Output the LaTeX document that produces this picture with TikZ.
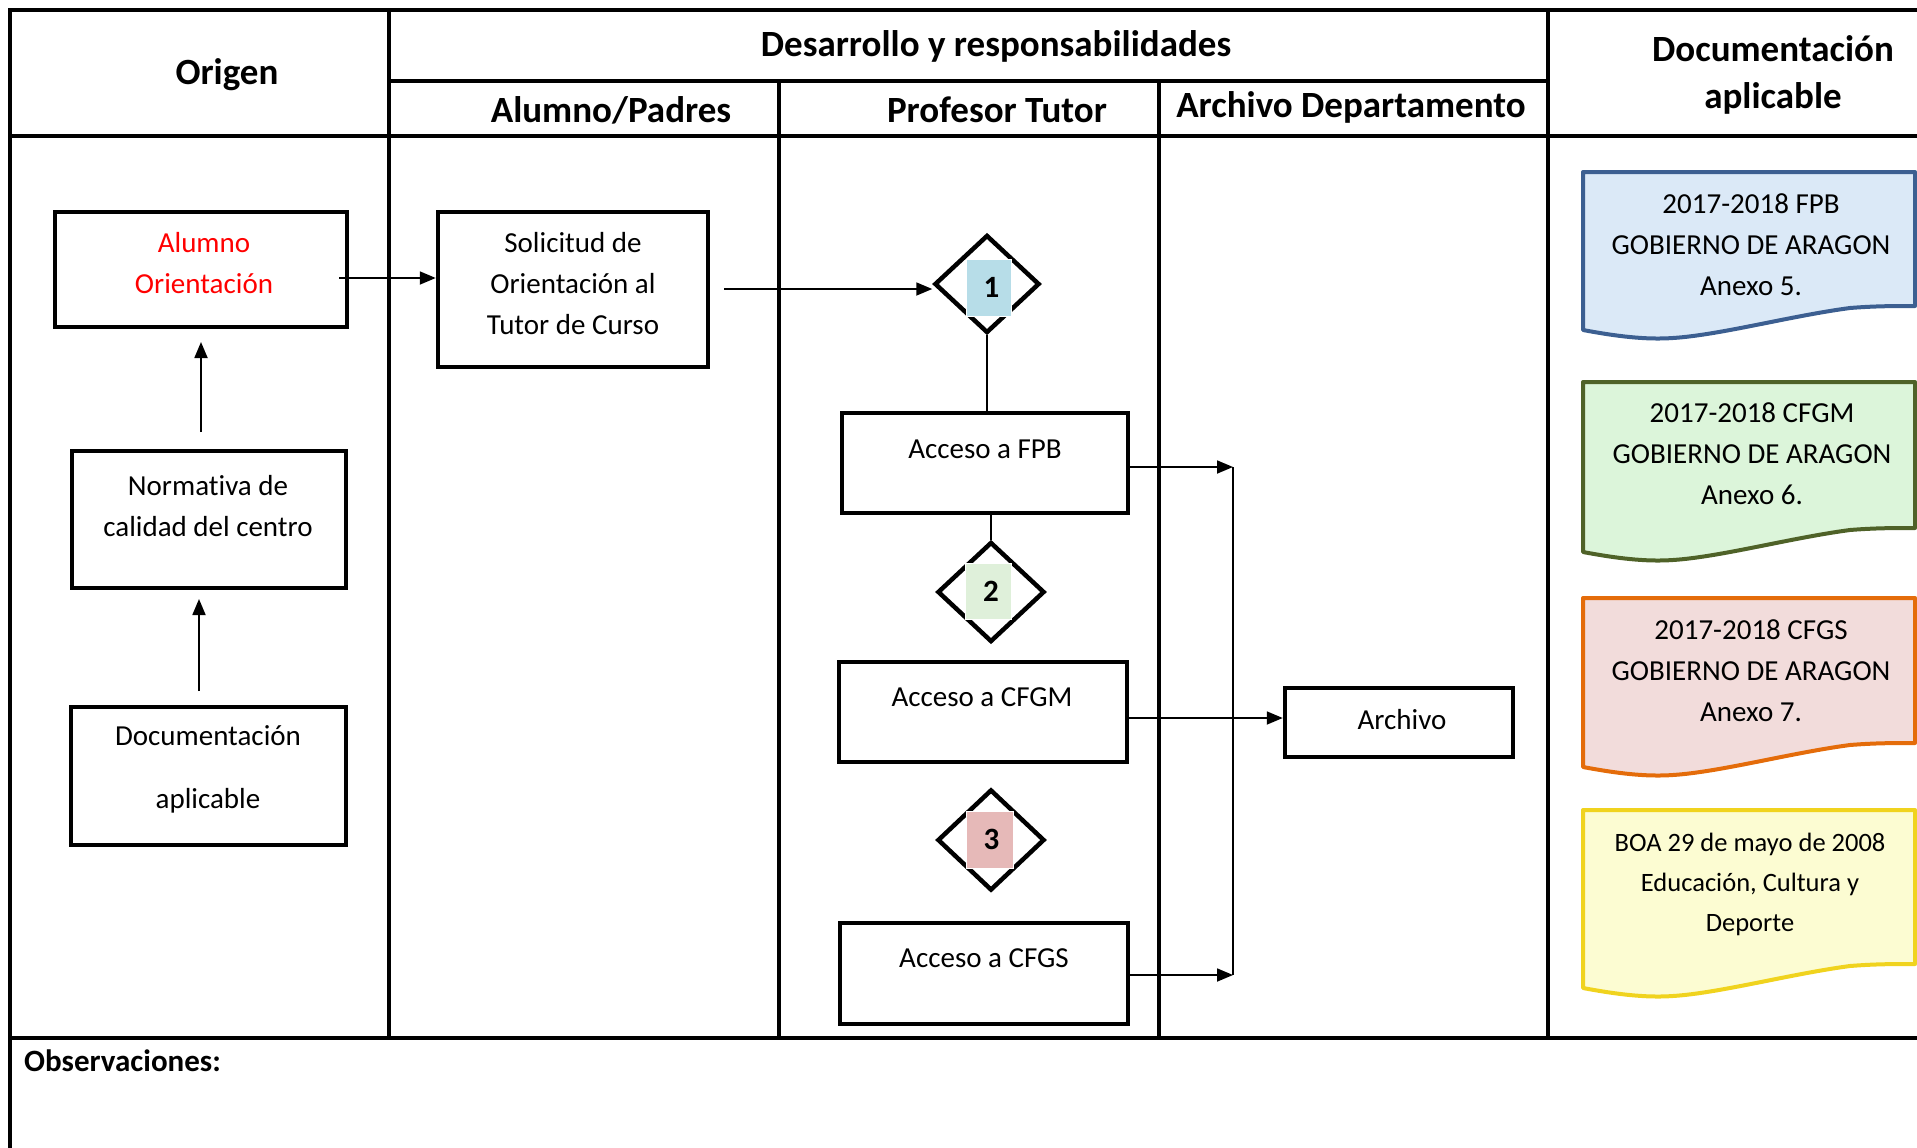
\documentclass[tikz,border=0pt]{standalone}
\usepackage{fontspec}
\setmainfont[Ligatures={NoCommon}]{Carlito}
\usetikzlibrary{arrows.meta,shapes.geometric}
\definecolor{bfill}{RGB}{219,233,247}
\definecolor{bdraw}{RGB}{60,95,145}
\definecolor{gfill}{RGB}{220,245,218}
\definecolor{gdraw}{RGB}{79,98,40}
\definecolor{pfill}{RGB}{242,220,219}
\definecolor{pdraw}{RGB}{228,108,10}
\definecolor{yfill}{RGB}{252,252,210}
\definecolor{ydraw}{RGB}{240,211,30}
\definecolor{sqone}{RGB}{183,221,232}
\definecolor{sqtwo}{RGB}{223,240,218}
\definecolor{sqthree}{RGB}{230,185,184}
\tikzset{
  grid/.style={line width=4pt, line cap=rect},
  hdr/.style={font=\fontsize{37}{44}\selectfont\bfseries, inner sep=0pt, align=center},
  body/.style={font=\fontsize{29}{41}\selectfont, inner sep=0pt, align=center},
  boxx/.style={draw, line width=4.5pt, minimum width=#1, inner sep=0pt},
  dia/.style={draw, diamond, line width=4.5pt, inner sep=0pt},
  sq/.style={draw=white, line width=1pt, inner sep=0pt},
  num/.style={font=\fontsize{31}{33}\selectfont\bfseries, inner sep=0pt},
  conn/.style={line width=1.8pt},
  arr/.style={line width=1.8pt, -{Triangle[length=16pt,width=13pt]}},
  docshape/.style={line width=4pt, line join=round}
}
\newcommand\mydoc[4]{%
  \path[docshape, draw=#4, fill=#3] (1583,#1) -- (1915,#1) -- (1915,{#2-24})
    .. controls (1895,{#2-24}) and (1875,{#2-24}) .. (1850,{#2-22})
    .. controls (1790,{#2-14}) and (1720,{#2+5}) .. (1673,{#2+8})
    .. controls (1645,{#2+10}) and (1615,{#2+6}) .. (1583,#2) -- cycle;}
\begin{document}
\begin{tikzpicture}[x=1pt,y=-1pt]
\useasboundingbox (0,0) rectangle (1917,1148);
% table
\draw[grid] (10,10) -- (1919,10);
\draw[grid] (10,10) -- (10,1150);
\draw[grid] (10,136) -- (1919,136);
\draw[grid] (389,81) -- (1548,81);
\draw[grid] (10,1038) -- (1919,1038);
\draw[grid] (389,10) -- (389,1038);
\draw[grid] (779,81) -- (779,1038);
\draw[grid] (1159,81) -- (1159,1038);
\draw[grid] (1548,10) -- (1548,1038);
% headers
\node[hdr] (hOrigen) at (227,75) {Origen};
\node[hdr] (hDes) at (996,46) {Desarrollo y responsabilidades};
\node[hdr] (hAlu) at (611,110) {Alumno/Padres};
\node[hdr] (hPro) at (997,110) {Profesor Tutor};
\node[hdr] (hArc) at (1351,107) {Archivo Departamento};
\node[hdr, font=\fontsize{37}{47}\selectfont\bfseries] (hDoc) at (1773,75) {Documentación\\aplicable};
\node[font=\fontsize{31}{36}\selectfont\bfseries, inner sep=0pt, anchor=west] (hObs) at (24,1061) {Observaciones:};
% boxes
\node[boxx=292pt, minimum height=115pt] (alum) at (201,269.5) {};
\node[body, text=red] (alumT) at (204,263.5) {Alumno\\Orientación};
\node[boxx=270pt, minimum height=155pt] (sol) at (573,289.5) {};
\node[body] (solT) at (573,284) {Solicitud de\\Orientación al\\Tutor de Curso};
\node[boxx=274pt, minimum height=137pt] (norm) at (209,519.5) {};
\node[body] (normT) at (208,506) {Normativa de\\calidad del centro};
\node[boxx=275pt, minimum height=138pt] (docu) at (208.5,776) {};
\node[body] (docuT) at (208,769.5) {Documentación\\[22pt]aplicable};
\node[boxx=286pt, minimum height=100pt] (fpb) at (985,463) {};
\node[body] (fpbT) at (985,449) {Acceso a FPB};
\node[boxx=288pt, minimum height=100pt] (cfgm) at (983,712) {};
\node[body] (cfgmT) at (982,697) {Acceso a CFGM};
\node[boxx=288pt, minimum height=101pt] (cfgs) at (984,973.5) {};
\node[body] (cfgsT) at (984,958.5) {Acceso a CFGS};
\node[boxx=228pt, minimum height=69pt] (arch) at (1399,722.5) {};
\node[body] (archT) at (1402,720) {Archivo};
% diamonds
\node[dia, minimum width=105pt, minimum height=98pt] (d1) at (987,284) {};
\node[dia, minimum width=107pt, minimum height=100pt] (d2) at (991,592) {};
\node[dia, minimum width=107pt, minimum height=101pt] (d3) at (991,840) {};
\node[sq, fill=sqone, minimum width=45pt, minimum height=57pt] (s1) at (988.5,287.5) {};
\node[sq, fill=sqtwo, minimum width=46pt, minimum height=56pt] (s2) at (988,591) {};
\node[sq, fill=sqthree, minimum width=47pt, minimum height=57pt] (s3) at (989.5,839.5) {};
\node[num] (n1) at ([xshift=3pt]s1.center) {1};
\node[num] (n2) at ([xshift=3pt]s2.center) {2};
\node[num] (n3) at ([xshift=2pt]s3.center) {3};
% documents
\mydoc{172}{330}{bfill}{bdraw}
\mydoc{382}{552}{gfill}{gdraw}
\mydoc{598}{767}{pfill}{pdraw}
\mydoc{810}{988}{yfill}{ydraw}
\node[body] (doc1) at (1751,245) {2017-2018 FPB\\GOBIERNO DE ARAGON\\Anexo 5.};
\node[body] (doc2) at (1752,454) {2017-2018 CFGM\\GOBIERNO DE ARAGON\\Anexo 6.};
\node[body] (doc3) at (1751,671) {2017-2018 CFGS\\GOBIERNO DE ARAGON\\Anexo 7.};
\node[body, font=\fontsize{26.5}{40}\selectfont] (doc4) at (1750,884) {BOA 29 de mayo de 2008\\Educación, Cultura y\\Deporte};
% connectors
\coordinate (a1) at (339,278);
\draw[arr] (a1) -- (a1 -| sol.west);
\coordinate (a2) at (724,289);
\draw[arr] (a2) -- (a2 -| d1.west);
\coordinate (u1s) at (201,432);
\coordinate (u1e) at (201,342);
\draw[arr] (u1s) -- (u1e);
\coordinate (u2s) at (199,691);
\coordinate (u2e) at (199,599);
\draw[arr] (u2s) -- (u2e);
\draw[conn] (d1.south) -- (d1.south |- fpb.north);
\draw[conn] (d2.north |- fpb.south) -- (d2.north);
\coordinate (v1) at (1233,467);
\coordinate (v2) at (1233,975);
\draw[arr] (v1 -| fpb.east) -- (v1);
\draw[conn] (v1) -- (v2);
\draw[arr] (v2 -| cfgs.east) -- (v2);
\coordinate (m1) at (1200,718);
\draw[arr] (m1 -| cfgm.east) -- (m1 -| arch.west);
\end{tikzpicture}
\end{document}
